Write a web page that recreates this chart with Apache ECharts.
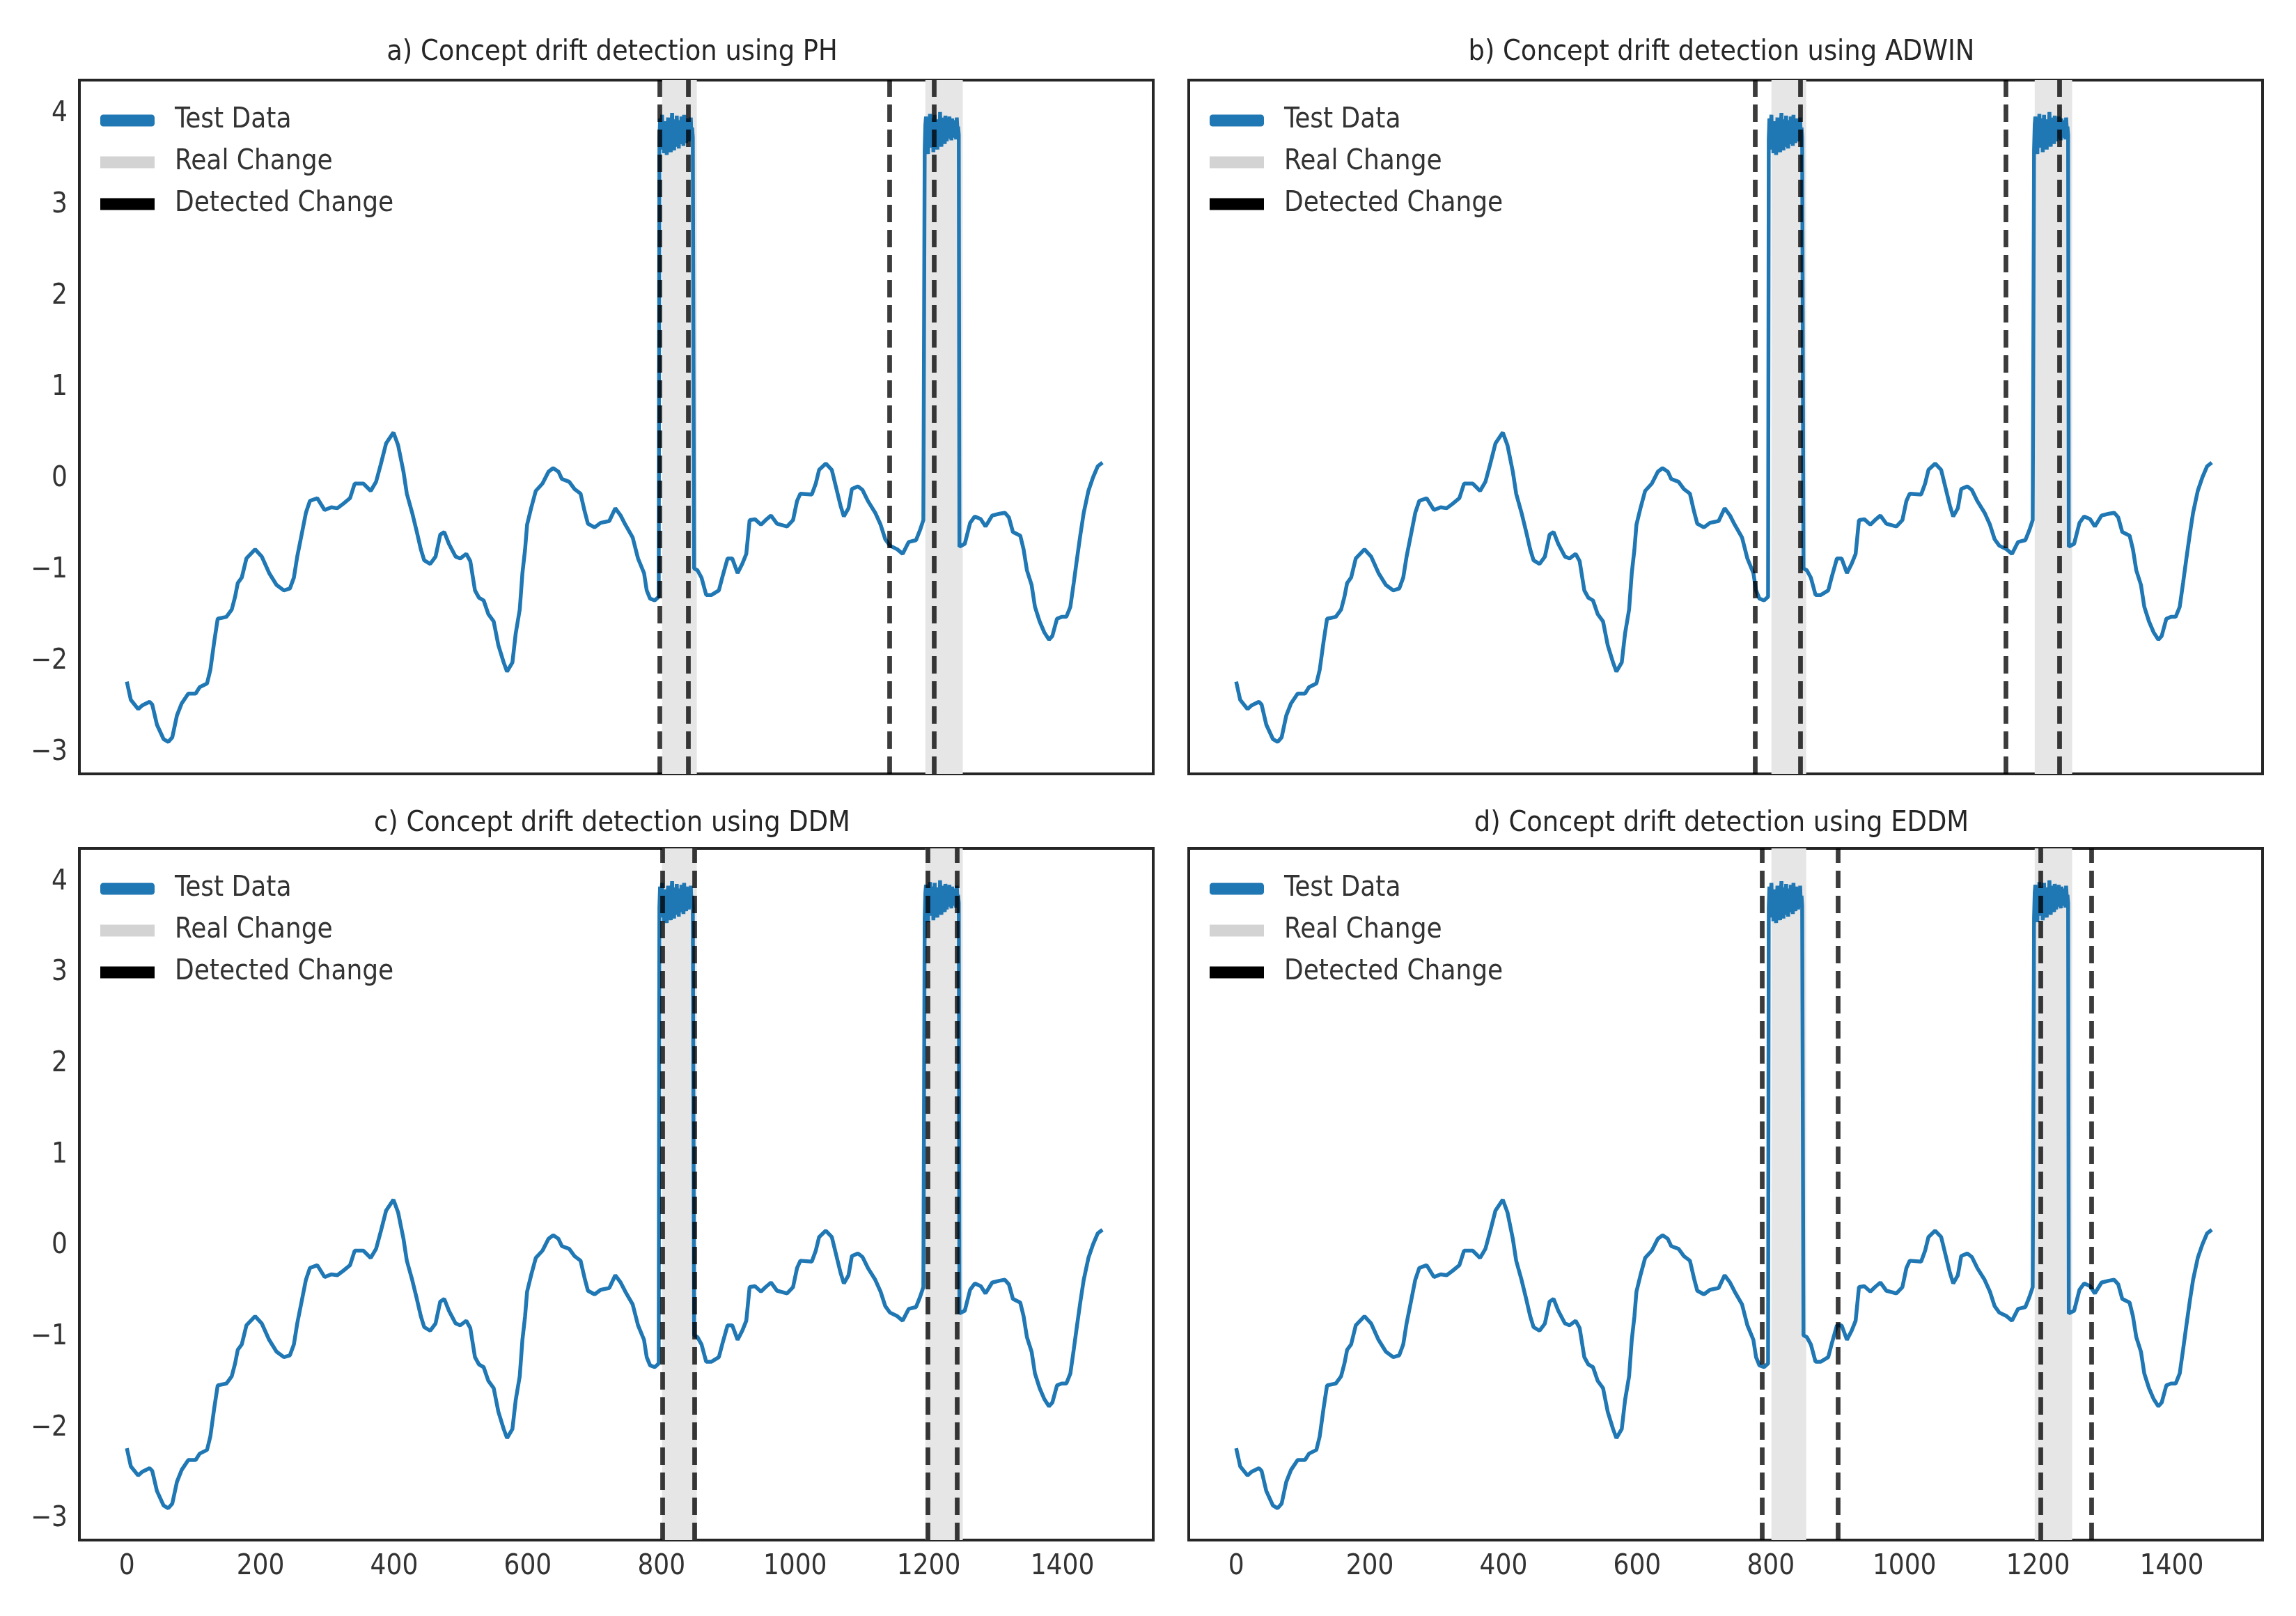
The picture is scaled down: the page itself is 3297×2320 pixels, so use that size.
<!DOCTYPE html>
<html>
<head>
<meta charset="utf-8">
<title>Concept drift detection</title>
<script src="https://cdn.jsdelivr.net/npm/echarts@6.0.0/dist/echarts.min.js"></script>
<style>
  html, body { margin: 0; padding: 0; background: #fff; }
  #main { width: 3297px; height: 2320px; }
</style>
</head>
<body>
<div id="main"></div>
<script>
// test stream (it is the same in all four panels)
var curveBefore = [
  [0,-2.22],[6,-2.42],[17,-2.52],[23,-2.48],[34,-2.44],[38,-2.47],[45,-2.69],[55,-2.85],
  [62,-2.88],[68,-2.83],[75,-2.59],[82,-2.46],[92,-2.35],[103,-2.35],[109,-2.28],[120,-2.24],
  [125,-2.09],[131,-1.77],[136,-1.53],[149,-1.51],[157,-1.43],[162,-1.29],[166,-1.14],[172,-1.08],
  [179,-0.87],[192,-0.77],[202,-0.85],[213,-1.03],[224,-1.16],[235,-1.22],[244,-1.20],[250,-1.08],
  [255,-0.85],[261,-0.63],[268,-0.37],[274,-0.24],[285,-0.21],[296,-0.34],[306,-0.31],[315,-0.32],
  [324,-0.27],[334,-0.21],[341,-0.05],[354,-0.05],[365,-0.13],[373,-0.03],[380,0.16],[388,0.39],
  [399,0.51],[406,0.37],[414,0.08],[419,-0.16],[427,-0.37],[434,-0.58],[440,-0.77],[445,-0.89],
  [454,-0.93],[462,-0.85],[469,-0.61],[475,-0.58],[482,-0.71],[492,-0.85],[499,-0.87],[508,-0.82],
  [514,-0.90],[521,-1.22],[527,-1.30],[534,-1.33],[541,-1.48],[549,-1.56],[556,-1.82],[564,-2.01],
  [569,-2.11],[577,-2.01],[582,-1.69],[588,-1.43],[592,-1.03],[596,-0.77],[599,-0.50],[605,-0.32],
  [612,-0.13],[622,-0.05],[631,0.08],[638,0.12],[646,0.08],[651,0.00],[662,-0.03],[670,-0.11],
  [679,-0.16],[685,-0.35],[690,-0.49],[700,-0.53],[709,-0.48],[722,-0.46],[731,-0.32],[739,-0.40],
  [746,-0.50],[757,-0.64],[765,-0.87],[774,-1.03],[778,-1.22],[783,-1.31],[790,-1.33],[796,-1.29]
];
var driftHigh1Start = 797;
var driftHigh1 = [
  3.72,3.95,3.61,3.88,3.99,3.66,3.83,3.57,3.92,3.70,3.85,3.55,3.78,3.96,3.63,3.90,3.74,
  3.58,3.87,4.01,3.69,3.81,3.60,3.94,3.76,3.64,3.98,3.71,3.86,3.62,3.93,3.79,3.67,3.97,
  3.73,3.89,3.65,3.99,3.77,3.84,3.68,3.95,3.75,3.91,3.70,3.87,3.80,3.96,3.72,3.85,3.74
];
var curveMiddle = [
  [849,-0.98],[854,-1.00],[860,-1.08],[867,-1.27],[875,-1.27],[886,-1.22],[891,-1.08],[899,-0.87],
  [906,-0.87],[914,-1.03],[921,-0.93],[927,-0.82],[932,-0.45],[940,-0.44],[949,-0.50],[956,-0.45],
  [964,-0.40],[973,-0.49],[988,-0.52],[997,-0.45],[1003,-0.24],[1008,-0.16],[1025,-0.17],[1031,-0.05],
  [1036,0.10],[1046,0.17],[1055,0.10],[1062,-0.11],[1068,-0.29],[1073,-0.41],[1080,-0.32],[1085,-0.11],
  [1094,-0.08],[1101,-0.12],[1109,-0.24],[1120,-0.37],[1128,-0.50],[1135,-0.66],[1142,-0.73],[1153,-0.77],
  [1161,-0.82],[1170,-0.69],[1181,-0.67],[1187,-0.56],[1192,-0.45]
];
var driftHigh2Start = 1194;
var driftHigh2 = [
  3.60,3.88,3.97,3.68,3.82,3.56,3.93,3.74,4.00,3.63,3.86,3.71,3.95,3.58,3.80,3.99,3.66,3.90,
  3.75,3.61,3.94,3.83,3.69,4.02,3.77,3.64,3.89,3.96,3.72,3.85,3.67,3.98,3.79,3.70,3.92,3.84,
  3.73,3.97,3.76,3.88,3.71,3.95,3.81,3.74,3.93,3.78,3.90,3.72,3.96,3.83,3.86,3.77
];
var curveAfter = [
  [1246,-0.74],[1254,-0.71],[1262,-0.48],[1269,-0.41],[1278,-0.44],[1285,-0.52],[1295,-0.40],[1306,-0.38],
  [1314,-0.37],[1320,-0.42],[1326,-0.58],[1337,-0.62],[1342,-0.77],[1347,-1.00],[1354,-1.16],[1359,-1.40],
  [1366,-1.56],[1373,-1.68],[1380,-1.76],[1385,-1.72],[1392,-1.53],[1399,-1.51],[1406,-1.51],[1412,-1.40],
  [1417,-1.14],[1422,-0.87],[1427,-0.61],[1432,-0.37],[1439,-0.13],[1446,0.02],[1453,0.14],[1460,0.18]
];

// shaded real drifts and the dashed detections of each detector
var realChanges = [[801, 853], [1195, 1251]];
var detectedPH = [797, 840, 1141, 1208];
var detectedADWIN = [777, 844, 1152, 1232];
var detectedDDM = [802, 850, 1199, 1242];
var detectedEDDM = [787, 901, 1204, 1280];

var panelTitles = [
  'a) Concept drift detection using PH',
  'b) Concept drift detection using ADWIN',
  'c) Concept drift detection using DDM',
  'd) Concept drift detection using EDDM'
];
var xTicks = [0, 200, 400, 600, 800, 1000, 1200, 1400];
var yTicks = [-3, -2, -1, 0, 1, 2, 3, 4];

var FONT = '"DejaVu Sans Condensed", "DejaVu Sans", sans-serif';
var TEXT_COLOR = '#333';

var testData = curveBefore
  .concat(driftHigh1.map(function (v, i) { return [driftHigh1Start + i, v]; }))
  .concat(curveMiddle)
  .concat(driftHigh2.map(function (v, i) { return [driftHigh2Start + i, v]; }))
  .concat(curveAfter);

var detections = [detectedPH, detectedADWIN, detectedDDM, detectedEDDM];

// panel boxes in pixels
var panels = [
  { left: 114, top: 115, width: 1542, height: 996, titleX: 879, titleY: 75 },
  { left: 1707, top: 115, width: 1542, height: 996, titleX: 2472, titleY: 75 },
  { left: 114, top: 1218, width: 1542, height: 993, titleX: 879, titleY: 1182 },
  { left: 1707, top: 1218, width: 1542, height: 993, titleX: 2472, titleY: 1182 }
];

var grids = [], xAxes = [], yAxes = [], legends = [], series = [], texts = [];

panels.forEach(function (p, i) {
  grids.push({
    left: p.left, top: p.top, width: p.width, height: p.height,
    show: true, borderColor: '#262626', borderWidth: 4, backgroundColor: 'transparent'
  });
  xAxes.push({
    gridIndex: i, type: 'value', min: -71, max: 1536,
    axisLine: { show: false }, axisTick: { show: false }, splitLine: { show: false },
    axisLabel: {
      show: i >= 2, customValues: xTicks, margin: 19,
      fontSize: 40, color: TEXT_COLOR, fontFamily: FONT,
      formatter: function (v) { return String(v); }
    }
  });
  yAxes.push({
    gridIndex: i, type: 'value', min: -3.23, max: 4.37,
    axisLine: { show: false }, axisTick: { show: false }, splitLine: { show: false },
    axisLabel: {
      show: i % 2 === 0, customValues: yTicks, margin: 17,
      fontSize: 40, color: TEXT_COLOR, fontFamily: FONT,
      formatter: function (v) { return String(v).replace('-', '\u2212'); }
    }
  });
  legends.push({
    orient: 'vertical', left: p.left + 25, top: p.top + 30,
    itemWidth: 78, itemHeight: 17, itemGap: 14,
    selectedMode: false,
    itemStyle: { borderWidth: 0 },
    data: [
      { name: 'Test Data', icon: 'roundRect' },
      { name: 'Real Change', icon: 'rect' },
      { name: 'Detected Change', icon: 'rect' }
    ],
    textStyle: {
      fontSize: 40, color: TEXT_COLOR, fontFamily: FONT,
      lineHeight: 46, padding: [0, 0, 0, 24]
    }
  });

  series.push({
    name: 'Real Change', type: 'line', xAxisIndex: i, yAxisIndex: i, data: [],
    itemStyle: { color: '#d3d3d3' }, z: 1,
    markArea: {
      silent: true,
      itemStyle: { color: '#e6e6e6' },
      data: realChanges.map(function (r) { return [{ xAxis: r[0] }, { xAxis: r[1] }]; })
    }
  });
  series.push({
    name: 'Test Data', type: 'line', xAxisIndex: i, yAxisIndex: i,
    data: testData, showSymbol: false, symbol: 'none', z: 2,
    itemStyle: { color: '#1f77b4' },
    lineStyle: { color: '#1f77b4', width: 5.5 }
  });
  series.push({
    name: 'Detected Change', type: 'line', xAxisIndex: i, yAxisIndex: i, data: [],
    itemStyle: { color: '#000' }, z: 3,
    markLine: {
      silent: true, symbol: ['none', 'none'],
      label: { show: false },
      lineStyle: { color: 'rgba(0,0,0,0.77)', width: 6.75, type: [25, 11] },
      emphasis: { disabled: true },
      data: detections[i].map(function (v) { return { xAxis: v }; })
    }
  });

  texts.push({
    type: 'text', x: p.titleX, y: p.titleY,
    style: {
      text: panelTitles[i], fill: '#262626',
      font: '41px ' + FONT,
      textAlign: 'center', textVerticalAlign: 'middle',
      align: 'center', verticalAlign: 'middle'
    }
  });
});

var chart = echarts.init(document.getElementById('main'), null, { renderer: 'canvas' });
chart.setOption({
  animation: false,
  backgroundColor: '#fff',
  grid: grids,
  xAxis: xAxes,
  yAxis: yAxes,
  legend: legends,
  series: series,
  graphic: texts
});
</script>
</body>
</html>
